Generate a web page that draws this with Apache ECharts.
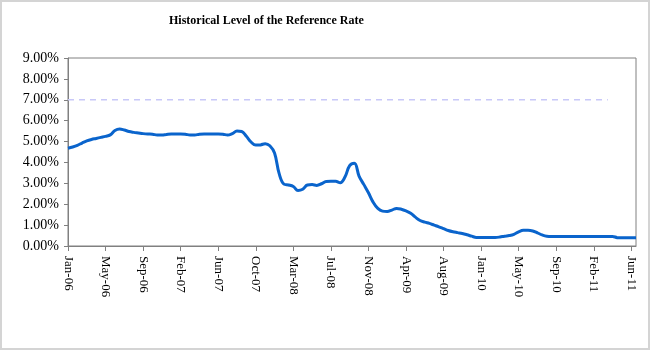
<!DOCTYPE html>
<html>
<head>
    <meta charset="utf-8">
    <title>Historical Level of the Reference Rate</title>
    <script src="https://cdn.jsdelivr.net/npm/echarts@6/dist/echarts.min.js"></script>
    <style>
        html, body { margin: 0; padding: 0; background: #fff; }
        #chart { width: 650px; height: 350px; box-sizing: border-box; border: 2px solid #d4d4d4; }
    </style>
</head>
<body>
<div id="chart"></div>
<script>
    // tick labels along the x axis, one every 8 points
    var tickLabels = ['Jan-06', 'May-06', 'Sep-06', 'Feb-07', 'Jun-07', 'Oct-07', 'Mar-08', 'Jul-08',
        'Nov-08', 'Apr-09', 'Aug-09', 'Jan-10', 'May-10', 'Sep-10', 'Feb-11', 'Jun-11'];
    var pointsPerTick = 8;

    // reference rate, in %
    var rateValues = [
        4.68, 4.74, 4.82, 4.93, 5.03, 5.10, 5.15, 5.20, 5.25, 5.32,
        5.53, 5.60, 5.55, 5.48, 5.44, 5.41, 5.38, 5.36, 5.35, 5.31,
        5.31, 5.34, 5.36, 5.36, 5.36, 5.35, 5.31, 5.31, 5.35, 5.36,
        5.36, 5.36, 5.36, 5.35, 5.31, 5.38, 5.50, 5.48, 5.25, 4.98,
        4.83, 4.84, 4.90, 4.80, 4.45, 3.45, 2.96, 2.92, 2.85, 2.66,
        2.72, 2.92, 2.94, 2.90, 2.98, 3.09, 3.10, 3.10, 3.03, 3.30,
        3.85, 3.96, 3.35, 2.95, 2.55, 2.10, 1.80, 1.67, 1.65, 1.72,
        1.80, 1.76, 1.68, 1.57, 1.38, 1.22, 1.14, 1.08, 1.00, 0.92,
        0.83, 0.74, 0.68, 0.64, 0.60, 0.54, 0.47, 0.41, 0.41, 0.41,
        0.41, 0.41, 0.43, 0.47, 0.50, 0.56, 0.68, 0.75, 0.75, 0.72,
        0.63, 0.53, 0.47, 0.46, 0.46, 0.46, 0.46, 0.46, 0.46, 0.46,
        0.46, 0.46, 0.46, 0.46, 0.46, 0.46, 0.46, 0.40, 0.39, 0.39,
        0.39, 0.39
    ];

    // dashed reference level
    var refLevel = 7;
    var refEndIndex = 115;

    var categories = rateValues.map(function (v, i) {
        return i % pointsPerTick === 0 ? (tickLabels[i / pointsPerTick] || '') : '';
    });
    var refValues = rateValues.map(function (v, i) {
        return i <= refEndIndex ? refLevel : null;
    });

    var serif = '"Liberation Serif", "Times New Roman", serif';
    var myChart = echarts.init(document.getElementById('chart'));

    var option = {
        animation: false,
        title: {
            text: 'Historical Level of the Reference Rate',
            left: 162,
            top: 8,
            textStyle: { fontFamily: serif, fontWeight: 'bold', fontSize: 12, color: '#000' }
        },
        grid: {
            left: 66, right: 12, top: 56, bottom: 102,
            show: true, borderColor: '#808080', borderWidth: 1,
            outerBoundsMode: 'none'
        },
        xAxis: {
            type: 'category',
            data: categories,
            boundaryGap: false,
            axisLine: { lineStyle: { color: '#808080' } },
            axisTick: { interval: pointsPerTick - 1, length: 5, lineStyle: { color: '#808080' } },
            axisLabel: {
                interval: pointsPerTick - 1,
                rotate: -90,
                margin: 10,
                fontFamily: serif,
                fontSize: 13,
                color: '#000'
            },
            splitLine: { show: false }
        },
        yAxis: {
            type: 'value',
            min: 0,
            max: 9,
            interval: 1,
            axisLine: { show: true, lineStyle: { color: '#808080' } },
            axisTick: { show: true, length: 4, lineStyle: { color: '#808080' } },
            axisLabel: {
                margin: 9,
                fontFamily: serif,
                fontSize: 14,
                color: '#000',
                formatter: function (v) { return v.toFixed(2) + '%'; }
            },
            splitLine: { show: false }
        },
        series: [{
            name: 'Level',
            type: 'line',
            data: refValues,
            symbol: 'none',
            silent: true,
            lineStyle: { color: '#c8c8f8', width: 1.5, type: [6, 5] }
        }, {
            name: 'Reference Rate',
            type: 'line',
            data: rateValues,
            symbol: 'none',
            smooth: 0.4,
            lineStyle: { color: '#0a64cc', width: 3 }
        }]
    };

    myChart.setOption(option);
</script>
</body>
</html>
